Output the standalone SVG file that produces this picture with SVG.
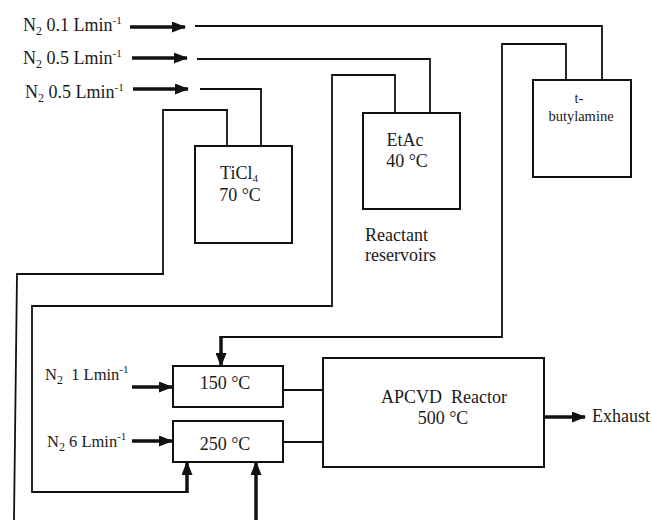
<svg xmlns="http://www.w3.org/2000/svg" width="652" height="520" viewBox="0 0 652 520">
<defs>
<style>
text { font-family: "Liberation Serif", "Times New Roman", serif; fill: #1a1a1a; }
.t18 { font-size: 18px; }
.t16 { font-size: 16.5px; }
.t15 { font-size: 14.5px; }
.box { fill: #ffffff; stroke: #111111; stroke-width: 2; }
.pipe { fill: none; stroke: #111111; stroke-width: 1.8; stroke-linejoin: miter; }
.flow { fill: none; stroke: #111111; stroke-width: 3.5; }
.sub { font-size: 12px; }
.sup { font-size: 11px; }
</style>
<marker id="head" viewBox="0 0 14 11" refX="13" refY="5.5" markerWidth="14" markerHeight="11" markerUnits="userSpaceOnUse" orient="auto">
<path d="M0,0 L14,5.5 L0,11 z" fill="#111111"/>
</marker>
</defs>
<rect width="652" height="520" fill="#ffffff"/>

<g id="connectors">
<path class="pipe" d="M195,26 H602 V80"/>
<path class="pipe" d="M197,59 H430 V113"/>
<path class="pipe" d="M200,89 H261 V146"/>
<path class="pipe" d="M227,146 V110 H163 V274 H17 L14,520"/>
<path class="pipe" d="M395,113 V75 H332 V306 H32 V492 H187"/>
<line class="flow" x1="187" y1="493" x2="187" y2="462" marker-end="url(#head)"/>
<path class="pipe" d="M566,80 V44 H502 V337 H221"/>
<line class="flow" x1="221" y1="336" x2="221" y2="366" marker-end="url(#head)"/>
<line class="flow" x1="130" y1="27" x2="185" y2="27" marker-end="url(#head)"/>
<line class="flow" x1="132" y1="58" x2="187" y2="58" marker-end="url(#head)"/>
<line class="flow" x1="133" y1="89" x2="188" y2="89" marker-end="url(#head)"/>
<line class="flow" x1="132" y1="387" x2="172" y2="387" marker-end="url(#head)"/>
<line class="flow" x1="132" y1="441" x2="172" y2="441" marker-end="url(#head)"/>
<line class="flow" x1="256" y1="520" x2="256" y2="462" marker-end="url(#head)"/>
<line class="pipe" x1="283" y1="390" x2="323" y2="390"/>
<line class="pipe" x1="283" y1="442" x2="323" y2="442"/>
<line class="flow" x1="544" y1="417" x2="585" y2="417" marker-end="url(#head)"/>
</g>

<g id="feed-labels">
<text class="t18" x="23" y="31">N<tspan class="sub" dy="4">2</tspan><tspan dy="-4"> 0.1 Lmin</tspan><tspan class="sup" dy="-7">-1</tspan></text>
<text class="t18" x="23" y="64">N<tspan class="sub" dy="4">2</tspan><tspan dy="-4"> 0.5 Lmin</tspan><tspan class="sup" dy="-7">-1</tspan></text>
<text class="t18" x="25" y="98">N<tspan class="sub" dy="4">2</tspan><tspan dy="-4"> 0.5 Lmin</tspan><tspan class="sup" dy="-7">-1</tspan></text>
<text class="t16" x="45" y="380">N<tspan class="sub" dy="4">2</tspan><tspan dy="-4" xml:space="preserve">  1 Lmin</tspan><tspan class="sup" dy="-7">-1</tspan></text>
<text class="t16" x="47" y="447">N<tspan class="sub" dy="4">2</tspan><tspan dy="-4"> 6 Lmin</tspan><tspan class="sup" dy="-7">-1</tspan></text>
</g>

<g id="ticl4">
<rect class="box" x="195" y="146" width="97" height="97"/>
<text class="t18" x="239" y="179" text-anchor="middle">TiCl<tspan style="font-size:11px" dy="3">4</tspan></text>
<text class="t18" x="240" y="201" text-anchor="middle">70 °C</text>
</g>

<g id="etac">
<rect class="box" x="363" y="113" width="97" height="96"/>
<text class="t18" x="405" y="146" text-anchor="middle">EtAc</text>
<text class="t18" x="407" y="167" text-anchor="middle">40 °C</text>
</g>

<g id="tbutylamine">
<rect class="box" x="533" y="80" width="98" height="97"/>
<text class="t15" x="579" y="103" text-anchor="middle">t-</text>
<text class="t15" x="581" y="121" text-anchor="middle">butylamine</text>
</g>

<g id="reservoirs-label">
<text class="t18" x="365" y="241">Reactant</text>
<text class="t18" x="365" y="261">reservoirs</text>
</g>

<g id="heater150">
<rect class="box" x="173" y="366" width="110" height="41"/>
<text class="t18" x="225" y="389" text-anchor="middle">150 °C</text>
</g>

<g id="heater250">
<rect class="box" x="173" y="421" width="110" height="41"/>
<text class="t18" x="225" y="450" text-anchor="middle">250 °C</text>
</g>

<g id="reactor">
<rect class="box" x="323" y="358" width="221" height="109"/>
<text class="t18" x="444" y="403" text-anchor="middle" xml:space="preserve">APCVD  Reactor</text>
<text class="t18" x="443" y="424" text-anchor="middle">500 °C</text>
</g>

<g id="exhaust">
<text class="t18" x="592" y="422">Exhaust</text>
</g>
</svg>
